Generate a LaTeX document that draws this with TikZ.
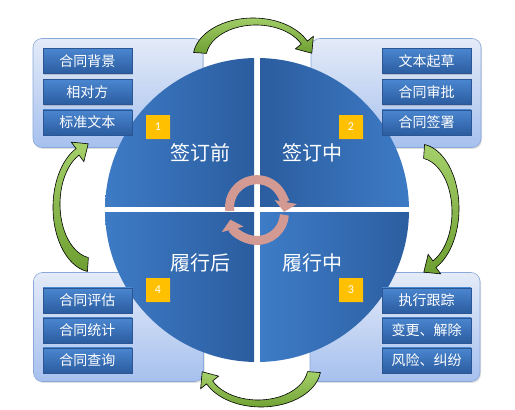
\documentclass[tikz,border=0pt]{standalone}
\usepackage{fontspec}
\setmainfont{Carlito}
\newfontfamily\cjk{Noto Sans CJK SC}
\usetikzlibrary{shadows,arrows.meta}
\definecolor{panelTop}{HTML}{E4EBF8}
\definecolor{panelBot}{HTML}{A6C0EE}
\definecolor{panelLine}{HTML}{8AA8DA}
\definecolor{btnTop}{HTML}{4A86D0}
\definecolor{btnBot}{HTML}{2B5C9F}
\definecolor{btnLine}{HTML}{2C5594}
\definecolor{qLight}{HTML}{3E7CC7}
\definecolor{qDark}{HTML}{2B5D9F}
\definecolor{goldBox}{HTML}{FFC000}
\definecolor{pinkArr}{HTML}{D29A93}
\definecolor{grLight}{HTML}{A5D06A}
\definecolor{grDark}{HTML}{6E9F32}
\tikzset{
 panel/.style={draw=panelLine, line width=0.6pt, rounded corners=9pt, top color=panelTop, bottom color=panelBot,
   minimum width=170pt, minimum height=109pt, inner sep=0pt,
   drop shadow={shadow xshift=1pt, shadow yshift=-1.5pt, opacity=0.25}},
 btn/.style={draw=btnLine, line width=0.4pt, top color=btnTop, bottom color=btnBot,
   minimum width=89pt, minimum height=25pt, inner sep=0pt, text=white,
   font=\cjk\fontsize{14pt}{14pt}\selectfont,
   drop shadow={shadow xshift=1pt, shadow yshift=-1.5pt, opacity=0.35}},
 numbox/.style={fill=goldBox, minimum size=24pt, inner sep=0pt, text=white,
   font=\fontsize{12pt}{12pt}\selectfont,
   drop shadow={shadow xshift=1pt, shadow yshift=-1pt, opacity=0.3}},
 qlabel/.style={text=white, font=\cjk\fontsize{20pt}{20pt}\selectfont, inner sep=0pt},
 grarrow/.style={draw=black, line width=0.6pt, top color=grLight, bottom color=grDark},
 pinkarrow/.style={draw=pinkArr, line width=9pt, -{Triangle[length=10pt,width=22pt]}},
}
\newcommand\grnarrow[4]{%
 \begin{scope}[shift={(257,200)},rotate=#1,yshift=#2,xshift=#3,xscale=#4]
  \path[grarrow] (-63.42,157.57) arc[start angle=172,end angle=25,x radius=60,y radius=40]
   -- (56.36,173.73) -- (54.80,156.78) -- (38.34,161.13) -- (44.32,165.95)
   arc[start angle=25,end angle=172,x radius=50,y radius=33] -- cycle;
 \end{scope}}
\begin{document}
\begin{tikzpicture}[x=1pt,y=1pt]
\fill[white] (0,0) rectangle (515,410);
\useasboundingbox (0,0) rectangle (515,410);
% panels
\node[panel] (ptl) at (118,317) {};
\node[panel] (ptr) at (396,317) {};
\node[panel] (pbl) at (118.5,83) {};
\node[panel] (pbr) at (395,83) {};
% green cycle arrows
\grnarrow{0}{0pt}{0pt}{1}
\grnarrow{-90}{10pt}{3pt}{1.08}
\grnarrow{180}{5pt}{0pt}{1}
\grnarrow{90}{12pt}{7pt}{1.08}
% circle quadrants
\begin{scope}
 \clip (257,200) circle[radius=152];
 \shade[left color=qLight, right color=qDark] (100,203) rectangle (254,360);
 \shade[left color=qDark, right color=qLight] (260,203) rectangle (415,360);
 \shade[left color=qLight, right color=qDark] (100,40) rectangle (254,197);
 \shade[left color=qLight, right color=qDark] (260,40) rectangle (415,197);
\end{scope}
% buttons
\node[btn] (a1) at (87.5,349) {合同背景};
\node[btn] (a2) at (87.5,318) {相对方};
\node[btn] (a3) at (87.5,287.5) {标准文本};
\node[btn] (b1) at (426.5,349) {文本起草};
\node[btn] (b2) at (426.5,318) {合同审批};
\node[btn] (b3) at (426.5,287.5) {合同签署};
\node[btn] (c1) at (426.5,109.5) {执行跟踪};
\node[btn] (c2) at (426.5,79.5) {变更、解除};
\node[btn] (c3) at (426.5,49.5) {风险、纠纷};
\node[btn] (d1) at (87.5,109.5) {合同评估};
\node[btn] (d2) at (87.5,79.5) {合同统计};
\node[btn] (d3) at (87.5,49.5) {合同查询};
% number boxes
\node[numbox] (n1) at (158,283) {1};
\node[numbox] (n2) at (351,283) {2};
\node[numbox] (n3) at (351,120) {3};
\node[numbox] (n4) at (158,120) {4};
% quadrant labels
\node[qlabel] (q1) at (200,257) {签订前};
\node[qlabel] (q2) at (312,257) {签订中};
\node[qlabel] (q3) at (312,147) {履行中};
\node[qlabel] (q4) at (200,147) {履行后};
% centre arrows
\draw[pinkarrow] (229.8,199.0) arc[start angle=188,end angle=-10,radius=27.5];
\draw[pinkarrow] (284.4,195.1) arc[start angle=-4,end angle=-166,radius=27.5];
\end{tikzpicture}
\end{document}
